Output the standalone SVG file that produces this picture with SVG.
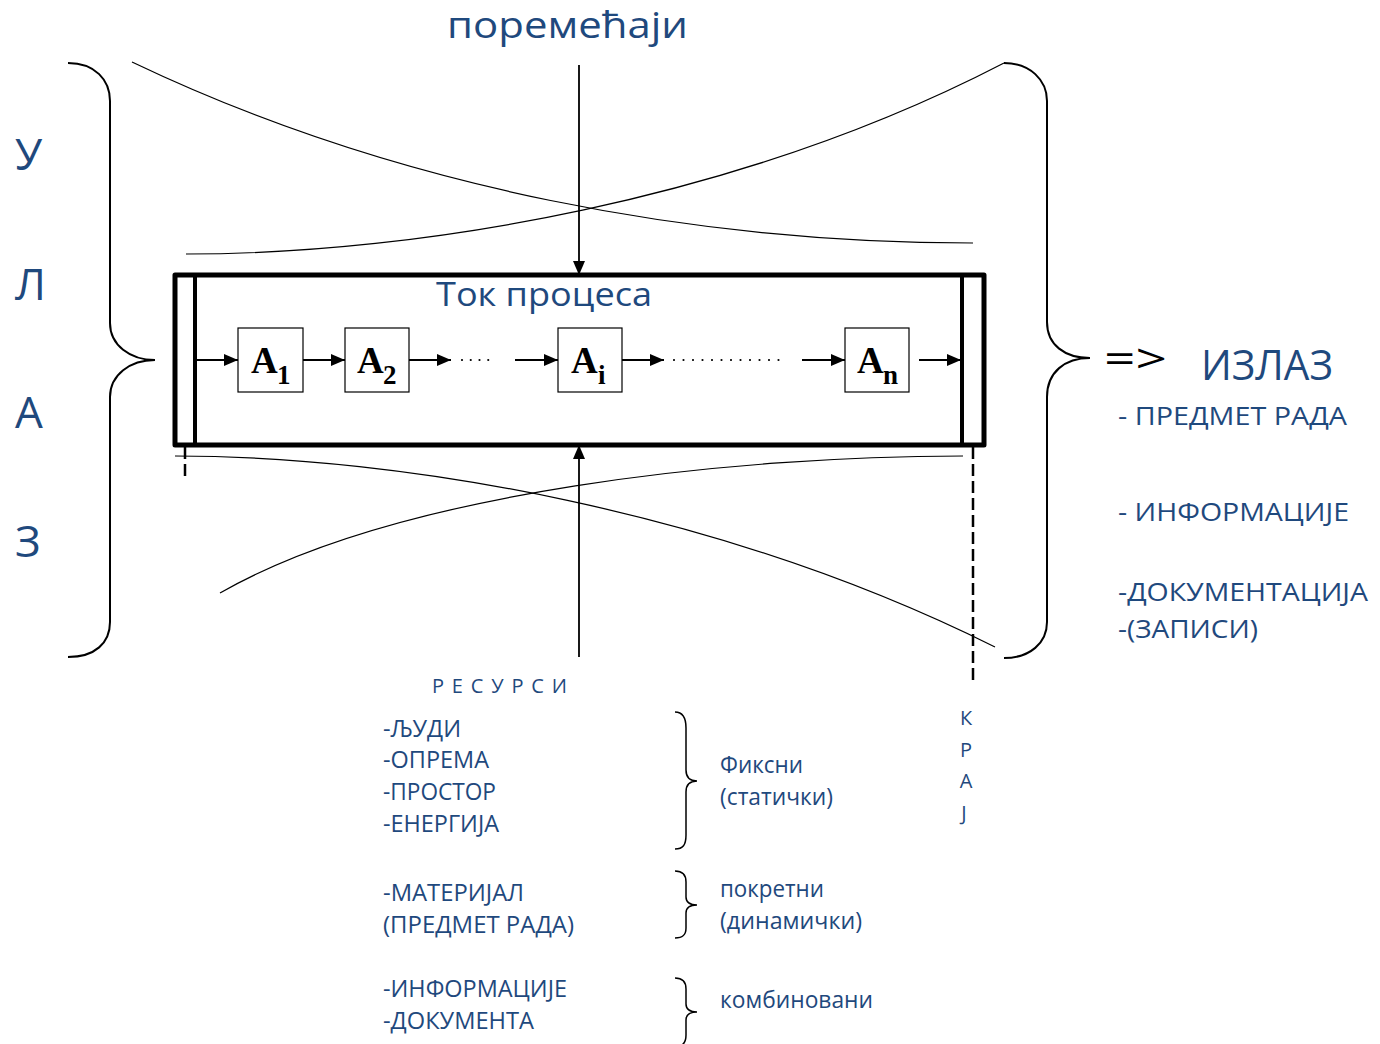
<svg xmlns="http://www.w3.org/2000/svg" width="1380" height="1044" viewBox="0 0 1380 1044">
<defs>
<style>
.t{font-family:"Open Sans","Noto Sans",sans-serif;fill:#1F497D}
.a{font-family:"Liberation Serif","Times New Roman",serif;font-weight:bold;fill:#000}
.thin{fill:none;stroke:#000;stroke-width:1.2}
.brace{fill:none;stroke:#000;stroke-width:2}
.sbrace{fill:none;stroke:#000;stroke-width:1.5}
.conn{fill:none;stroke:#000;stroke-width:1.8}
.box{fill:#fff;stroke:#000;stroke-width:1.2}
.dots{fill:none;stroke:#000;stroke-width:2.2;stroke-linecap:round}
.dash{fill:none;stroke:#000;stroke-width:2.5;stroke-dasharray:12 5}
</style>
<marker id="ah" viewBox="0 0 14 12" refX="14" refY="6" markerWidth="14" markerHeight="12" markerUnits="userSpaceOnUse" orient="auto">
<path d="M0,0 L14,6 L0,12 Z" fill="#000"/>
</marker>
</defs>
<rect width="1380" height="1044" fill="#fff"/>

<g id="curves">
<path class="thin" d="M132,62 C400,190 700,243 973,243"/>
<path class="thin" d="M186,254 C420,254 740,200 1004,63"/>
<path class="thin" d="M175,456 C400,456 720,510 995,647"/>
<path class="thin" d="M220,593 C400,490 740,456 963,456"/>
</g>

<g id="braces">
<path class="brace" d="M68,63 C95,63 110,80 110,101 L110,323 C110,345 130,360 155,360 C130,360 110,375 110,397 L110,622 C110,643 95,657 68,657"/>
<path class="brace" d="M1004,63 C1030,63 1047,80 1047,101 L1047,322 C1047,345 1065,358 1090,358 C1065,358 1047,372 1047,397 L1047,622 C1047,643 1030,658 1004,658"/>
<path class="sbrace" d="M675,712 C683,712 686,718 686,728 L686,770 C686,777 690,781 697,781 C690,781 686,785 686,792 L686,835 C686,845 683,849 675,849"/>
<path class="sbrace" d="M675,871 C683,871 686,875 686,882 L686,897 C686,902 690,905 697,905 C690,905 686,908 686,913 L686,928 C686,935 683,938 675,938"/>
<path class="sbrace" d="M675,978 C683,978 686,982 686,989 L686,1004 C686,1009 690,1012 697,1012 C690,1012 686,1015 686,1020 L686,1035 C686,1042 683,1045 680,1046"/>
</g>

<g id="process">
<rect x="175" y="275" width="809" height="170" fill="none" stroke="#000" stroke-width="5" stroke-linejoin="round"/>
<line x1="195" y1="275" x2="195" y2="445" stroke="#000" stroke-width="4"/>
<line x1="962" y1="275" x2="962" y2="445" stroke="#000" stroke-width="4"/>
<text class="t" x="436" y="306" font-size="33" textLength="216" lengthAdjust="spacingAndGlyphs">Ток процеса</text>
</g>

<g id="A1"><rect class="box" x="238" y="328" width="65" height="64"/><text class="a" x="251" y="373" font-size="37">A</text><text class="a" x="277" y="384" font-size="27">1</text></g>
<g id="A2"><rect class="box" x="345" y="328" width="64" height="64"/><text class="a" x="357" y="373" font-size="37">A</text><text class="a" x="383" y="384" font-size="27">2</text></g>
<g id="Ai"><rect class="box" x="558" y="328" width="64" height="64"/><text class="a" x="571" y="373" font-size="37">A</text><text class="a" x="598" y="384" font-size="27">i</text></g>
<g id="An"><rect class="box" x="845" y="328" width="64" height="64"/><text class="a" x="857" y="373" font-size="37">A</text><text class="a" x="883" y="384" font-size="27">n</text></g>

<g id="connectors">
<line class="conn" x1="579" y1="65" x2="579" y2="275" marker-end="url(#ah)"/>
<line class="conn" x1="579" y1="657" x2="579" y2="445" marker-end="url(#ah)"/>
<line class="conn" x1="195" y1="360" x2="238" y2="360" marker-end="url(#ah)"/>
<line class="conn" x1="303" y1="360" x2="345" y2="360" marker-end="url(#ah)"/>
<line class="conn" x1="409" y1="360" x2="451" y2="360" marker-end="url(#ah)"/>
<line class="dots" x1="462" y1="360" x2="497" y2="360" stroke-dasharray="0 8.75"/>
<line class="conn" x1="515" y1="360" x2="558" y2="360" marker-end="url(#ah)"/>
<line class="conn" x1="622" y1="360" x2="664" y2="360" marker-end="url(#ah)"/>
<line class="dots" x1="674" y1="360" x2="788" y2="360" stroke-dasharray="0 9.5"/>
<line class="conn" x1="802" y1="360" x2="845" y2="360" marker-end="url(#ah)"/>
<line class="conn" x1="919" y1="360" x2="961" y2="360" marker-end="url(#ah)"/>
<line class="dash" x1="185" y1="447" x2="185" y2="478"/>
<line class="dash" x1="973" y1="447" x2="973" y2="684"/>
</g>

<g id="top-label"><text class="t" x="447" y="38" font-size="37" textLength="241" lengthAdjust="spacingAndGlyphs">поремећаји</text></g>

<g id="ulaz">
<text class="t" x="15" y="170" font-size="44">У</text>
<text class="t" x="15" y="300" font-size="44">Л</text>
<text class="t" x="15" y="428" font-size="44">А</text>
<text class="t" x="15" y="557" font-size="44">З</text>
</g>

<g id="izlaz">
<text x="1104" y="373" font-family="Open Sans, Noto Sans, sans-serif" font-size="40" fill="#000" textLength="63" lengthAdjust="spacingAndGlyphs">=&gt;</text>
<text class="t" x="1201" y="380" font-size="42" textLength="132" lengthAdjust="spacingAndGlyphs">ИЗЛАЗ</text>
<text class="t" x="1118" y="425" font-size="26" textLength="229" lengthAdjust="spacingAndGlyphs">- ПРЕДМЕТ РАДА</text>
<text class="t" x="1118" y="521" font-size="26" textLength="231" lengthAdjust="spacingAndGlyphs">- ИНФОРМАЦИЈЕ</text>
<text class="t" x="1118" y="601" font-size="26" textLength="250" lengthAdjust="spacingAndGlyphs">-ДОКУМЕНТАЦИЈА</text>
<text class="t" x="1118" y="638" font-size="26" textLength="140" lengthAdjust="spacingAndGlyphs">-(ЗАПИСИ)</text>
</g>

<g id="resursi">
<text class="t" x="432" y="693" font-size="20" textLength="135" lengthAdjust="spacing">РЕСУРСИ</text>
<text class="t" x="383" y="737" font-size="23" textLength="78" lengthAdjust="spacingAndGlyphs">-ЉУДИ</text>
<text class="t" x="383" y="768" font-size="23" textLength="106" lengthAdjust="spacingAndGlyphs">-ОПРЕМА</text>
<text class="t" x="383" y="800" font-size="23" textLength="113" lengthAdjust="spacingAndGlyphs">-ПРОСТОР</text>
<text class="t" x="383" y="832" font-size="23" textLength="116" lengthAdjust="spacingAndGlyphs">-ЕНЕРГИЈА</text>
<text class="t" x="383" y="901" font-size="23" textLength="141" lengthAdjust="spacingAndGlyphs">-МАТЕРИЈАЛ</text>
<text class="t" x="383" y="933" font-size="23" textLength="191" lengthAdjust="spacingAndGlyphs">(ПРЕДМЕТ РАДА)</text>
<text class="t" x="383" y="997" font-size="23" textLength="184" lengthAdjust="spacingAndGlyphs">-ИНФОРМАЦИЈЕ</text>
<text class="t" x="383" y="1029" font-size="23" textLength="151" lengthAdjust="spacingAndGlyphs">-ДОКУМЕНТА</text>
<text class="t" x="720" y="773" font-size="23" textLength="83" lengthAdjust="spacingAndGlyphs">Фиксни</text>
<text class="t" x="720" y="805" font-size="23" textLength="113" lengthAdjust="spacingAndGlyphs">(статички)</text>
<text class="t" x="720" y="897" font-size="23" textLength="104" lengthAdjust="spacingAndGlyphs">покретни</text>
<text class="t" x="720" y="929" font-size="23" textLength="142" lengthAdjust="spacingAndGlyphs">(динамички)</text>
<text class="t" x="720" y="1008" font-size="23" textLength="153" lengthAdjust="spacingAndGlyphs">комбиновани</text>
</g>

<g id="kraj">
<text class="t" x="966" y="725" font-size="20" text-anchor="middle">К</text>
<text class="t" x="966" y="757" font-size="20" text-anchor="middle">Р</text>
<text class="t" x="966" y="788" font-size="20" text-anchor="middle">А</text>
<text class="t" x="964" y="820" font-size="20" text-anchor="middle">Ј</text>
</g>
</svg>
